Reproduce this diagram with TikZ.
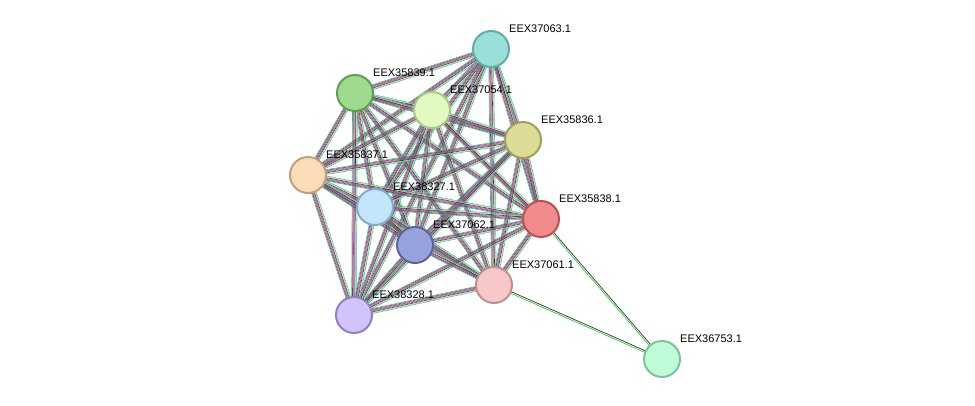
\documentclass[tikz,border=0pt]{standalone}
\usepackage{fontspec}
\setmainfont{Liberation Sans}
\usetikzlibrary{calc,backgrounds}
\definecolor{cG}{HTML}{33CC33}
\definecolor{cB}{HTML}{3344EE}
\definecolor{cR}{HTML}{EE3333}
\definecolor{cP}{HTML}{AA44CC}
\definecolor{cK}{HTML}{333333}
\definecolor{cY}{HTML}{CCDD44}
\definecolor{cC}{HTML}{33BBCC}
\newcommand\bundle[2]{\foreach \c/\o in {cG/-2.4,cB/-1.6,cR/-0.8,cP/0,cK/0.8,cY/1.6,cC/2.4}{\draw[\c,line width=0.55pt] ($(#1.center)!\o pt!90:(#2.center)$) -- ($(#2.center)!\o pt!-90:(#1.center)$);}}
\tikzset{prot/.style={circle,minimum size=36pt,inner sep=0pt,line width=2pt},
lab/.style={anchor=south west,font=\fontsize{11}{13}\selectfont,inner sep=1pt}}
\begin{document}
\begin{tikzpicture}[x=1pt,y=-1pt]
\useasboundingbox (0,0) rectangle (975,405);
\def\P#1#2#3#4#5#6{\definecolor{f#1}{HTML}{#4}\definecolor{d#1}{HTML}{#5}\node[prot,fill=f#1,draw=d#1] (#1) at (#2,#3) {}; \node[lab] at (#2+17,#3-15) {#6};}
\P{n1}{491}{49}{9ADFD8}{5FAFA8}{EEX37063.1}
\P{n2}{355}{93}{9EDB8F}{5FA050}{EEX35839.1}
\P{n3}{432}{110}{E0FAC0}{A8C888}{EEX37054.1}
\P{n4}{523}{140}{DCDC96}{A0A060}{EEX35836.1}
\P{n5}{308}{175}{FDDCB8}{C0A080}{EEX35837.1}
\P{n6}{375}{207}{C4E6FB}{88AACC}{EEX38327.1}
\P{n7}{541}{219}{F08C8C}{C05050}{EEX35838.1}
\P{n8}{415}{245}{98A2DC}{5A64A0}{EEX37062.1}
\P{n9}{494}{285}{F8C8C8}{C09090}{EEX37061.1}
\P{n10}{354}{315}{D2C4FB}{9080C0}{EEX38328.1}
\P{n11}{662}{359}{C0FCD8}{80C09A}{EEX36753.1}
\begin{pgfonlayer}{background}
\fill[white] (0,0) rectangle (975,405);
\foreach \i in {1,...,10}{\foreach \j in {1,...,10}{\ifnum\j>\i \bundle{n\i}{n\j}\fi}}
\foreach \a in {n7,n9}{
\draw[cG,line width=0.7pt] ($(\a.center)!-0.8pt!90:(n11.center)$) -- ($(n11.center)!-0.8pt!-90:(\a.center)$);
\draw[cK,line width=0.7pt] ($(\a.center)!0.8pt!90:(n11.center)$) -- ($(n11.center)!0.8pt!-90:(\a.center)$);}
\end{pgfonlayer}
\end{tikzpicture}
\end{document}
